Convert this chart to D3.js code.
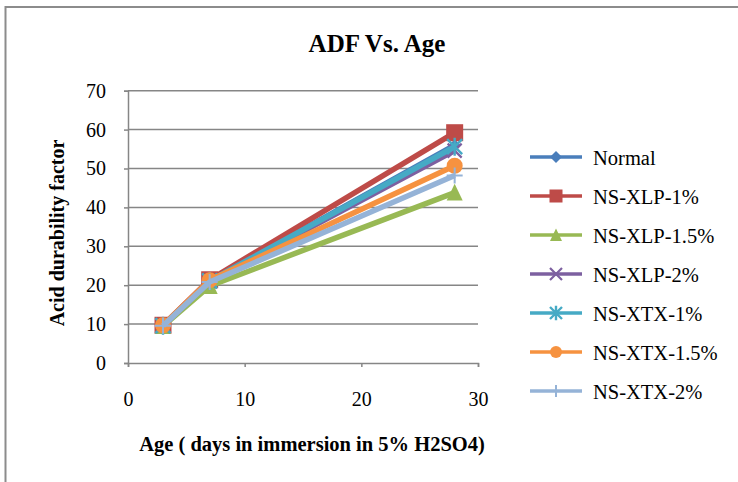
<!DOCTYPE html>
<html>
<head>
<meta charset="utf-8">
<script src="https://cdn.jsdelivr.net/npm/d3@7"></script>
<style>
  body { margin: 0; background: #fff; }
  text { font-family: "Liberation Serif", "DejaVu Serif", "Times New Roman", serif; }
</style>
</head>
<body>
<div id="chart"></div>
<script>
// data
var ages = [3, 7, 28];
var seriesNames = ['Normal', 'NS-XLP-1%', 'NS-XLP-1.5%', 'NS-XLP-2%', 'NS-XTX-1%', 'NS-XTX-1.5%', 'NS-XTX-2%'];
var normal   = [9.6, 21.0, 56.0];
var xlp1     = [9.7, 21.4, 59.2];
var xlp15    = [9.5, 19.8, 43.8];
var xlp2     = [9.6, 21.0, 54.6];
var xtx1     = [9.6, 21.1, 55.6];
var xtx15    = [9.7, 21.3, 50.7];
var xtx2     = [9.6, 20.8, 48.2];
var xTicks = [0, 10, 20, 30];
var yTicks = [0, 10, 20, 30, 40, 50, 60, 70];

var FONT = '"Liberation Serif", "DejaVu Serif", "Times New Roman", serif';
var colors = ['#4A7EBB', '#BE4B48', '#98B954', '#7D60A0', '#46AAC5', '#F69240', '#95B3D7'];
var shapes = ['diamond', 'square', 'triangle', 'cross', 'star', 'circle', 'plus'];
var allValues = [normal, xlp1, xlp15, xlp2, xtx1, xtx15, xtx2];

var width = 738, height = 482;
var plot = { left: 128, right: 478, top: 90.7, bottom: 363 };

var svg = d3.select('#chart').append('svg')
    .attr('width', width)
    .attr('height', height)
    .style('display', 'block');

// outer frame (only top and left edges fall inside the picture)
svg.append('rect')
    .attr('x', 5.5).attr('y', 7)
    .attr('width', 900).attr('height', 700)
    .attr('fill', 'none')
    .attr('stroke', '#8c8c8c')
    .attr('stroke-width', 2);

var x = d3.scaleLinear().domain([0, 30]).range([plot.left, plot.right]);
var y = d3.scaleLinear().domain([0, 70]).range([plot.bottom, plot.top]);

// gridlines
svg.append('g').selectAll('line')
    .data(yTicks.slice(1))
    .join('line')
    .attr('x1', plot.left).attr('x2', plot.right)
    .attr('y1', function (d) { return y(d); })
    .attr('y2', function (d) { return y(d); })
    .attr('stroke', '#868686')
    .attr('stroke-width', 1.5);

// axes
var yAxis = svg.append('g')
    .attr('transform', 'translate(' + plot.left + ',0)')
    .call(d3.axisLeft(y).tickValues(yTicks).tickSize(4).tickPadding(18));
var xAxis = svg.append('g')
    .attr('transform', 'translate(0,' + plot.bottom + ')')
    .call(d3.axisBottom(x).tickValues(xTicks).tickSize(4).tickPadding(25));

[yAxis, xAxis].forEach(function (ax) {
    ax.attr('font-family', FONT).attr('font-size', 20);
    ax.select('.domain').attr('stroke', '#868686').attr('stroke-width', 1.5);
    ax.selectAll('.tick line').attr('stroke', '#868686').attr('stroke-width', 1.5);
    ax.selectAll('.tick text').attr('fill', '#000');
});

// markers
function marker(sel, shape, color, size) {
    var s = size / 2;
    if (shape === 'diamond') {
        sel.append('path').attr('d', 'M0,' + (-s) + 'L' + s + ',0L0,' + s + 'L' + (-s) + ',0Z').attr('fill', color);
    } else if (shape === 'square') {
        sel.append('rect').attr('x', -s).attr('y', -s).attr('width', size).attr('height', size).attr('fill', color);
    } else if (shape === 'triangle') {
        sel.append('path').attr('d', 'M0,' + (-s * 1.1) + 'L' + s + ',' + s + 'L' + (-s) + ',' + s + 'Z').attr('fill', color);
    } else if (shape === 'circle') {
        sel.append('circle').attr('r', s).attr('fill', color);
    } else if (shape === 'cross') {
        sel.append('path').attr('d', 'M' + (-s) + ',' + (-s) + 'L' + s + ',' + s + 'M' + s + ',' + (-s) + 'L' + (-s) + ',' + s)
            .attr('stroke', color).attr('stroke-width', 2.2).attr('fill', 'none');
    } else if (shape === 'star') {
        sel.append('path').attr('d', 'M' + (-s) + ',' + (-s) + 'L' + s + ',' + s + 'M' + s + ',' + (-s) + 'L' + (-s) + ',' + s + 'M0,' + (-s * 1.2) + 'L0,' + (s * 1.2))
            .attr('stroke', color).attr('stroke-width', 2.4).attr('fill', 'none');
    } else if (shape === 'plus') {
        sel.append('path').attr('d', 'M' + (-s) + ',0L' + s + ',0M0,' + (-s) + 'L0,' + s)
            .attr('stroke', color).attr('stroke-width', 2).attr('fill', 'none');
    }
}

var markerSizes = [12, 17, 16, 14, 15, 16, 16];

var line = d3.line()
    .x(function (d) { return x(d[0]); })
    .y(function (d) { return y(d[1]); });

allValues.forEach(function (vals, i) {
    var pts = ages.map(function (a, j) { return [a, vals[j]]; });
    var g = svg.append('g');
    g.append('path')
        .datum(pts)
        .attr('d', line)
        .attr('fill', 'none')
        .attr('stroke', colors[i])
        .attr('stroke-width', 5.5)
        .attr('stroke-linejoin', 'round');
    pts.forEach(function (p) {
        var m = g.append('g').attr('transform', 'translate(' + x(p[0]) + ',' + y(p[1]) + ')');
        marker(m, shapes[i], colors[i], markerSizes[i]);
    });
});

// legend
var legend = svg.append('g');
seriesNames.forEach(function (name, i) {
    var ly = 157 + i * 39;
    var row = legend.append('g');
    row.append('line')
        .attr('x1', 530).attr('x2', 582)
        .attr('y1', ly).attr('y2', ly)
        .attr('stroke', colors[i]).attr('stroke-width', 3.5);
    var m = row.append('g').attr('transform', 'translate(556,' + ly + ')');
    marker(m, shapes[i], colors[i], i === 1 ? 13 : 12);
    row.append('text')
        .attr('x', 593).attr('y', ly + 8)
        .attr('font-family', FONT)
        .attr('font-size', 20.5)
        .text(name);
});

// titles
svg.append('text')
    .attr('x', 377).attr('y', 52)
    .attr('text-anchor', 'middle')
    .attr('font-family', FONT)
    .attr('font-size', 25).attr('font-weight', 'bold')
    .text('ADF Vs. Age');

svg.append('text')
    .attr('transform', 'translate(64,233) rotate(-90)')
    .attr('text-anchor', 'middle')
    .attr('font-family', FONT)
    .attr('font-size', 20).attr('font-weight', 'bold')
    .text('Acid durability factor');

svg.append('text')
    .attr('x', 312).attr('y', 451)
    .attr('text-anchor', 'middle')
    .attr('font-family', FONT)
    .attr('font-size', 20.5).attr('font-weight', 'bold')
    .text('Age ( days in immersion in 5% H2SO4)');
</script>
</body>
</html>
